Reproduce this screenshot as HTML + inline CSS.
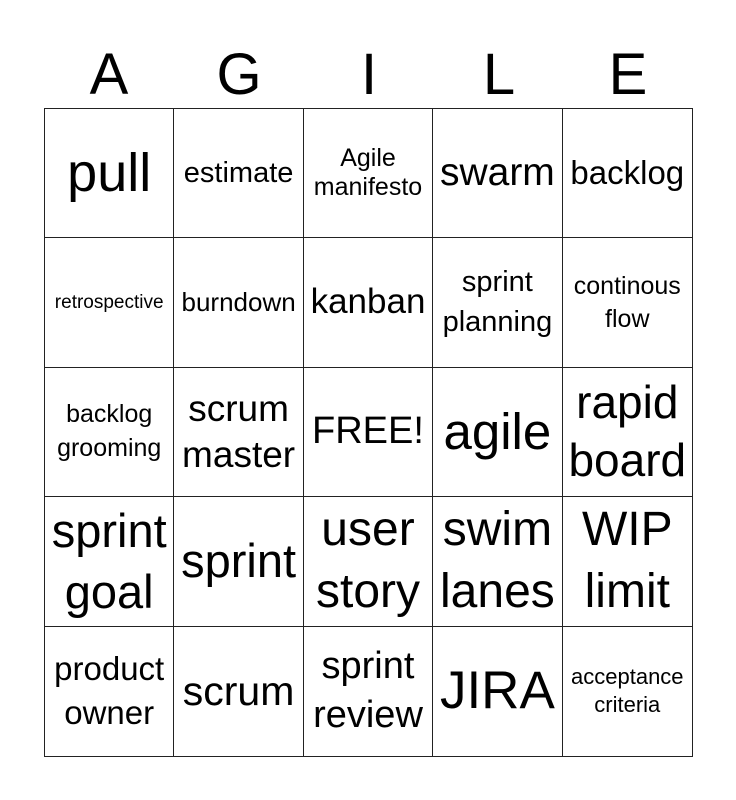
<!DOCTYPE html>
<html><head><meta charset="utf-8"><style>
html,body{margin:0;padding:0;background:#fff;width:736px;height:800px;overflow:hidden;font-family:"Liberation Sans",Arial,sans-serif;color:#000}
.h{position:absolute;top:40px;font-size:58px;line-height:70px;width:130px;text-align:center}
.g{position:absolute;left:44px;top:108px;width:649px;height:649px;display:grid;grid-template-columns:repeat(5,1fr);grid-template-rows:repeat(5,1fr);border:1px solid #222;box-sizing:border-box}
.g div{border-right:1px solid #222;border-bottom:1px solid #222;display:flex;align-items:center;justify-content:center;text-align:center;line-height:1.15;white-space:nowrap;overflow:hidden}
.g div:nth-child(5n){border-right:none}
.g div:nth-child(n+21){border-bottom:none}
</style></head><body>
<div class="h" style="left:44px">A</div>
<div class="h" style="left:174px">G</div>
<div class="h" style="left:304px">I</div>
<div class="h" style="left:434px">L</div>
<div class="h" style="left:563px">E</div>
<div class="g">
<div style="font-size:54px">pull</div><div style="font-size:29px">estimate</div><div style="font-size:25px">Agile<br>manifesto</div><div style="font-size:39px">swarm</div><div style="font-size:33px">backlog</div>
<div style="font-size:19px">retrospective</div><div style="font-size:26px">burndown</div><div style="font-size:35px">kanban</div><div style="font-size:29px;line-height:1.35">sprint<br>planning</div><div style="font-size:25px;line-height:1.3">continous<br>flow</div>
<div style="font-size:25px;line-height:1.35">backlog<br>grooming</div><div style="font-size:37px;line-height:1.25">scrum<br>master</div><div style="font-size:38px">FREE!</div><div style="font-size:51px">agile</div><div style="font-size:46px;line-height:1.25">rapid<br>board</div>
<div style="font-size:47px;line-height:1.3">sprint<br>goal</div><div style="font-size:47px">sprint</div><div style="font-size:48px;line-height:1.3">user<br>story</div><div style="font-size:48px;line-height:1.3">swim<br>lanes</div><div style="font-size:48px;line-height:1.3">WIP<br>limit</div>
<div style="font-size:33px;line-height:1.35">product<br>owner</div><div style="font-size:41px">scrum</div><div style="font-size:38px;line-height:1.3">sprint<br>review</div><div style="font-size:53px">JIRA</div><div style="font-size:22px;line-height:1.3">acceptance<br>criteria</div>
</div>
</body></html>
